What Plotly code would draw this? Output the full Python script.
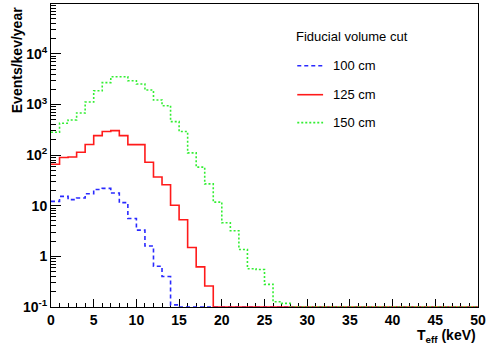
import numpy as np
import plotly.graph_objects as go

# Energy binning: 1 keV bins from 0 to 50 keV
bin_edges = list(range(0, 51))

# Expected rates (events/keV/year) per bin for each fiducial volume cut
rate_100cm = [12.2, 15.3, 13.2, 14.2, 17.3, 21.0, 22.0, 17.8, 11.5, 5.6,
              3.3, 1.6, 0.64, 0.40, 0.11] + [0.0] * 35
rate_125cm = [66, 90, 92, 114, 162, 243, 292, 305, 243, 161,
              161, 72.5, 37, 26, 10.2, 5.3, 1.5, 0.62, 0.26] + [0.0] * 31
rate_150cm = [283, 425, 495, 680, 1120, 1870, 2700, 3520, 3520, 2940,
              2540, 1930, 1230, 946, 458, 292, 111, 58, 27, 11.8,
              4.6, 3.2, 1.37, 0.57, 0.55, 0.28, 0.127, 0.118] + [0.0] * 22

series_names = ["100 cm", "125 cm", "150 cm"]
series_colors = ["#2a2aff", "#ff1a1a", "#33ee33"]
series_dash = ["4px,3px", "solid", "2px,2px"]

legend_title = "Fiducial volume cut"
x_title = "T<sub>eff</sub> (keV)"
y_title = "Events/kev/year"
y_tick_vals = [0.1, 1, 10, 100, 1000, 10000]
y_tick_text = ["10<sup>-1</sup>", "1", "10", "10<sup>2</sup>", "10<sup>3</sup>", "10<sup>4</sup>"]
x_tick_vals = list(range(0, 51, 5))

Y_LOG_MIN, Y_LOG_MAX = -1.0, 4.985
floor = 10 ** Y_LOG_MIN

fig = go.Figure()
for name, vals, col, dash in zip(series_names, [rate_100cm, rate_125cm, rate_150cm],
                                 series_colors, series_dash):
    v = np.maximum(np.asarray(vals, dtype=float), floor)  # empty bins sit on the axis floor
    fig.add_trace(go.Scatter(
        x=bin_edges, y=list(v) + [v[-1]], mode="lines", name=name,
        line=dict(color=col, width=1.6, dash=dash, shape="hv"),
        hoverinfo="skip"))

# minor ticks on the log axis: 2..9 within each decade
minor_vals = [m * 10.0 ** d for d in range(-1, 5) for m in range(2, 10)]

font_family = "Liberation Sans, Arial, sans-serif"
fig.update_layout(
    width=489, height=347,
    margin=dict(l=51, r=8, t=3, b=40),
    plot_bgcolor="white", paper_bgcolor="white",
    showlegend=False,
    font=dict(family=font_family, color="black"),
    xaxis=dict(
        range=[0, 50], showgrid=False, zeroline=False,
        showline=True, linecolor="black", linewidth=1, mirror=True,
        ticks="inside", ticklen=8, tickcolor="black", tickwidth=1,
        tickmode="array", tickvals=x_tick_vals,
        minor=dict(tickmode="array", tickvals=[i for i in range(51) if i % 5],
                   ticks="inside", ticklen=4, tickcolor="black", showgrid=False),
        tickfont=dict(family=font_family, size=14, weight="bold"),
        layer="below traces",
    ),
    yaxis=dict(
        type="log", range=[Y_LOG_MIN, Y_LOG_MAX], showgrid=False, zeroline=False,
        showline=True, linecolor="black", linewidth=1, mirror=True,
        ticks="inside", ticklen=10, tickcolor="black", tickwidth=1,
        tickmode="array", tickvals=y_tick_vals, ticktext=y_tick_text,
        minor=dict(tickmode="array", tickvals=minor_vals,
                   ticks="inside", ticklen=5, tickcolor="black", showgrid=False),
        tickfont=dict(family=font_family, size=14, weight="bold"),
        layer="below traces",
    ),
)

def px_x(p):
    return (p - 51) / 430.0

def px_y(p):
    return (307 - p) / 304.0

# axis titles
fig.add_annotation(text=f"<b>{x_title}</b>", xref="paper", yref="paper",
                   x=1.0, y=px_y(336), xanchor="right", yanchor="middle",
                   showarrow=False, font=dict(size=14, family=font_family))
fig.add_annotation(text=f"<b>{y_title}</b>", xref="paper", yref="paper",
                   x=px_x(17), y=px_y(4), xanchor="center", yanchor="top",
                   textangle=-90, showarrow=False,
                   font=dict(size=14, family=font_family))

# legend block
fig.add_annotation(text=legend_title, xref="paper", yref="paper",
                   x=px_x(296), y=px_y(36), xanchor="left", yanchor="middle",
                   showarrow=False, font=dict(size=13, family=font_family))
row_y = [65, 94, 122]
for name, col, dash, ry in zip(series_names, series_colors, series_dash, row_y):
    fig.add_shape(type="line", xref="paper", yref="paper",
                  x0=px_x(299), x1=px_x(325), y0=px_y(ry), y1=px_y(ry),
                  line=dict(color=col, width=1.6, dash=dash))
    fig.add_annotation(text=name, xref="paper", yref="paper",
                       x=px_x(333), y=px_y(ry), xanchor="left", yanchor="middle",
                       showarrow=False, font=dict(size=13, family=font_family))

fig.write_html("out.html")
